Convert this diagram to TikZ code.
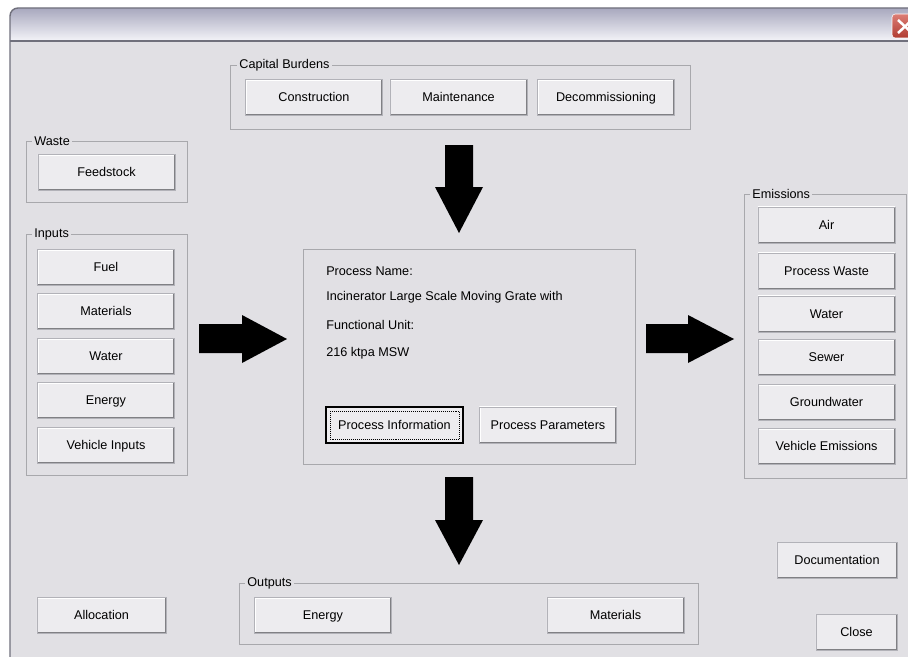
\documentclass[tikz,border=0pt]{standalone}
\usepackage{fontspec}
\setmainfont{Liberation Sans}
\definecolor{winbg}{RGB}{225,224,228}
\definecolor{btnface}{RGB}{237,236,239}
\definecolor{btnedge}{RGB}{178,178,184}
\definecolor{btnshade}{RGB}{128,128,132}
\definecolor{grpline}{RGB}{168,168,172}
\definecolor{frameline}{RGB}{112,112,124}
\definecolor{titletop}{RGB}{168,168,190}
\definecolor{titlebot}{RGB}{246,246,250}
\definecolor{closered}{RGB}{206,70,58}
\tikzset{
  button/.style = {
    rectangle, draw=btnedge, fill=btnface, line width=0.4pt,
    minimum width=3.425cm, minimum height=0.9cm, inner sep=0pt,
    text height=7.6pt, text depth=1.4pt,
    font=\fontsize{9}{11}\selectfont,
    path picture={
      \draw[white, line width=1.6pt]
        (path picture bounding box.south west) -- (path picture bounding box.north west)
        -- (path picture bounding box.north east);
      \draw[btnshade, line width=2pt]
        (path picture bounding box.south west) -- (path picture bounding box.south east)
        -- (path picture bounding box.north east);
    }
  },
  focused/.style = {
    draw=black, line width=0.9pt,
    path picture={
      \draw[btnshade, line width=2pt]
        (path picture bounding box.south west) -- (path picture bounding box.south east)
        -- (path picture bounding box.north east);
      \draw[black, densely dotted, line width=0.4pt]
        ([xshift=0.1cm, yshift=-0.1cm]path picture bounding box.north west) rectangle
        ([xshift=-0.1cm, yshift=0.1cm]path picture bounding box.south east);
    }
  },
  groupbox/.style = { draw=grpline, line width=0.6pt },
  grouplabel/.style = {
    anchor=west, fill=winbg, inner sep=1.5pt, font=\fontsize{9}{11}\selectfont
  },
  infotext/.style = { anchor=west, inner sep=0pt, font=\fontsize{9}{11}\selectfont },
  bigarrow/.style = { fill=black }
}

\begin{document}
\begin{tikzpicture}[x=0.025cm, y=-0.025cm]

    \useasboundingbox (0,0) rectangle (908,657);
    \fill[white] (0,0) rectangle (908,657);

    % ------------------------------------------------------------- Window
    \begin{scope}
      \clip (0,0) rectangle (908,657);
      \fill[winbg] (10,42) rectangle (940,680);
      \shade[top color=titletop, bottom color=titlebot]
        (10,42) [rounded corners=0.2cm] -- (10,8) -- (940,8) [sharp corners] -- (940,42) -- cycle;
      \draw[frameline, line width=1pt]
        (10,680) -- (10,42) [rounded corners=0.2cm] -- (10,8) -- (940,8);
      \draw[frameline, line width=0.8pt] (10,41) -- (940,41);
      % close box
      \shade[top color=closered!70!white, bottom color=closered!85!black,
             draw=white, rounded corners=0.08cm] (892,14) rectangle (918,38);
      \draw[white, line width=1.8pt] (898,20) -- (912,33) (898,33) -- (912,20);
    \end{scope}

    % ------------------------------------------------------------- Group boxes
    \draw[groupbox] (230, 65) rectangle (690,129);
    \draw[groupbox] ( 26,141) rectangle (187,202);
    \draw[groupbox] ( 26,234) rectangle (187,475);
    \draw[groupbox] (744,194) rectangle (906,478);
    \draw[groupbox] (239,583) rectangle (698,644);
    \draw[groupbox] (303,249) rectangle (635,464);

    \node[grouplabel] (capital_lbl)   at (237, 65) {Capital Burdens};
    \node[grouplabel] (waste_lbl)     at ( 32,141) {Waste};
    \node[grouplabel] (inputs_lbl)    at ( 32,234) {Inputs};
    \node[grouplabel] (emissions_lbl) at (750,194) {Emissions};
    \node[grouplabel] (outputs_lbl)   at (245,583) {Outputs};

    % ------------------------------------------------------------- Capital burdens
    \node[button] (construction) at (314,  97.5) {Construction};
    \node[button] (maintenance)  at (458.5,97.5) {Maintenance};
    \node[button] (decommission) at (606,  97.5) {Decommissioning};

    % ------------------------------------------------------------- Waste
    \node[button] (feedstock) at (106.5,172.5) {Feedstock};

    % ------------------------------------------------------------- Inputs
    \node[button] (fuel)      at (106,267.5) {Fuel};
    \node[button] (materials) at (106,311.5) {Materials};
    \node[button] (water_in)  at (106,356.5) {Water};
    \node[button] (energy_in) at (106,400.5) {Energy};
    \node[button] (vinputs)   at (106,445.5) {Vehicle Inputs};

    % ------------------------------------------------------------- Emissions
    \node[button] (air)        at (826.5,225)   {Air};
    \node[button] (pwaste)     at (826.5,271)   {Process Waste};
    \node[button] (water_out)  at (826.5,314)   {Water};
    \node[button] (sewer)      at (826.5,357.5) {Sewer};
    \node[button] (groundwater) at (826.5,402.5) {Groundwater};
    \node[button] (vemissions) at (826.5,446.5) {Vehicle Emissions};

    % ------------------------------------------------------------- Process
    \node[infotext] (procname)  at (326,271) {Process Name:};
    \node[infotext] (proctitle) at (326,297) {Incinerator Large Scale Moving Grate with};
    \node[infotext] (fulabel)   at (326,325) {Functional Unit:};
    \node[infotext] (fuvalue)   at (326,353) {216 ktpa MSW};

    \node[button, focused] (procinfo)  at (394.5,425) {Process Information};
    \node[button]          (procparam) at (548,  425) {Process Parameters};

    % ------------------------------------------------------------- Outputs
    \node[button] (energy_out) at (323,  615.5) {Energy};
    \node[button] (mat_out)    at (615.5,615.5) {Materials};

    % ------------------------------------------------------------- Loose buttons
    \node[button, minimum width=3.225cm] (allocation) at (101.5,615.5) {Allocation};
    \node[button, minimum width=3cm]     (docs)       at (837,  560)   {Documentation};
    \node[button, minimum width=2.025cm] (close)      at (856.5,632)   {Close};

    % ------------------------------------------------------------- Block arrows
    \fill[bigarrow] (445,145) -- (473,145) -- (473,187) -- (483,187)
      -- (459,233) -- (435,187) -- (445,187) -- cycle;
    \fill[bigarrow] (445,477) -- (473,477) -- (473,520) -- (483,520)
      -- (459,565) -- (435,520) -- (445,520) -- cycle;
    \fill[bigarrow] (199,324) -- (242,324) -- (242,315) -- (287,339)
      -- (242,363) -- (242,353) -- (199,353) -- cycle;
    \fill[bigarrow] (646,324) -- (688,324) -- (688,315) -- (734,339)
      -- (688,363) -- (688,353) -- (646,353) -- cycle;

\end{tikzpicture}
\end{document}
